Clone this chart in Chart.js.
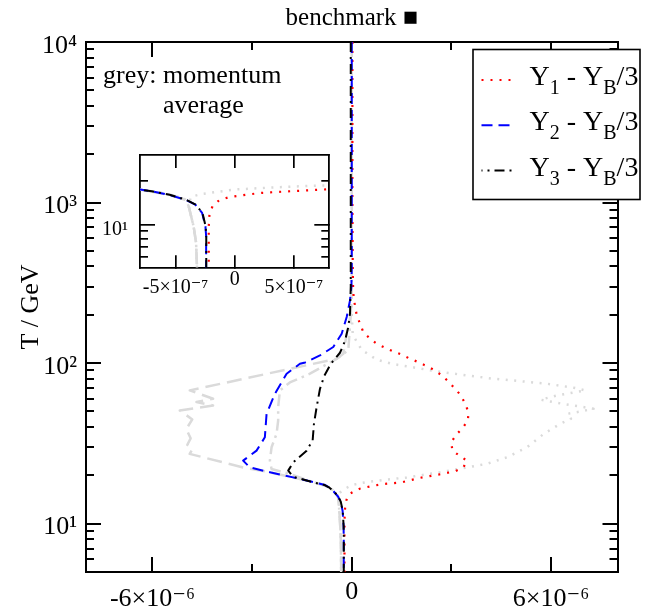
<!DOCTYPE html>
<html><head><meta charset="utf-8">
<script src="https://cdn.jsdelivr.net/npm/chart.js@4.4.1/dist/chart.umd.min.js"></script>
<style>
html,body{margin:0;padding:0;background:#fff;width:645px;height:613px;overflow:hidden}
#wrap{position:relative;width:645px;height:613px;background:#fff}
#main{position:absolute;left:0;top:0}
#inset{position:absolute;left:90px;top:150px}
</style></head><body>
<div id="wrap"><canvas id="main" width="645" height="613"></canvas><canvas id="inset" width="245" height="155"></canvas></div>
<script>
// ---------- data: T in GeV, asymmetry values in units of 1e-6 ----------
const T_Y1 = [10000,1000,400,300,250,229,199,176,156,142,132,124.7,118.3,112.8,106.4,101.4,95.7,90,83.7,76.8,69.2,62.9,55.8,49.5,43.9,39.3,35.8,32.1,28.5,26.5,24.7,22.4,21.2,20.7,20.2,19.3,18.1,17.6,17.3,16.8,16.5,16.0,15.4,14.7,13.5,11.7,9.7,5];
const X_Y1 = [0.02,0.02,0.03,0.04,0.06,0.098,0.149,0.249,0.348,0.55,0.752,1.0,1.253,1.506,1.756,2.006,2.26,2.51,2.712,2.911,3.113,3.285,3.415,3.514,3.496,3.333,3.143,2.992,3.032,3.243,3.466,3.363,3.113,2.863,2.61,2.058,1.506,0.9,0.7,0.406,0.236,0.094,-0.048,-0.128,-0.185,-0.213,-0.219,-0.219];

const T_Y2 = [10000,1000,400,300,246,193.6,152.4,126,111.6,101,99,85.9,64.4,48.3,34.5,28.5,24.7,22.4,20.9,19.0,17.4,16.9,16.0,14.8,13.7,12.0,9.7,8.3,5];
const X_Y2 = [0,0,0,-0.01,-0.053,-0.152,-0.303,-0.556,-0.957,-1.40,-1.56,-1.961,-2.314,-2.564,-2.616,-2.866,-3.27,-3.068,-2.465,-1.56,-0.8,-0.70,-0.56,-0.417,-0.332,-0.275,-0.247,-0.241,-0.241];

const T_Y3 = [10000,1000,300,203,168,137,116,99,83,69,53.2,41.9,33.0,28.5,24.1,21.4,19.6,18.1,17.4,16.9,16.0,14.8,13.7,12.0,9.7,8.3,5];
const X_Y3 = [-0.03,-0.03,-0.03,-0.053,-0.104,-0.204,-0.354,-0.63,-0.83,-0.957,-1.057,-1.138,-1.177,-1.358,-1.762,-1.913,-1.762,-1.159,-0.82,-0.70,-0.55,-0.41,-0.33,-0.272,-0.245,-0.24,-0.24];

// grey: momentum averaged versions
const T_G1 = [10000,1000,300,200,150,121,105,99,94.4,88.8,83.8,79.9,77.2,74.4,70.3,67.6,63,59.2,56,52,50,48.3,45,41.9,36.2,29.9,25.9,23.6,22.4,20.9,19.4,18.6,18.3,17.9,17.4,16.8,16.2,15.5,13.4,9.7,7.5,5];
const X_G1 = [0,0,0,0,0.03,0.3,0.752,1.204,1.807,2.561,3.466,4.268,5.073,5.878,6.68,7.033,6.2,5.68,6.3,7.28,6.9,6.48,6.6,6.28,5.775,5.275,4.672,4.069,3.466,2.661,1.657,0.85,0.55,0.29,0.01,-0.134,-0.275,-0.37,-0.389,-0.347,-0.326,-0.318];

const T_G2 = [10000,1000,300,200,152,114.5,106.4,67.6,60,57.2,54.5,50.7,44.6,38.9,34,31,29,27.2,22.4,20.9,19.0,17.4,16.0,14.8,13.4,9.7,7.5,5];
const X_G2 = [0,0,0,-0.03,-0.152,-0.255,-0.454,-4.877,-4.174,-4.675,-4.174,-5.178,-4.8,-4.98,-4.85,-4.95,-4.8,-4.88,-3.27,-2.465,-1.56,-0.8,-0.56,-0.417,-0.389,-0.347,-0.326,-0.318];

const T_G3 = [10000,1000,300,200,120,106.4,85.9,75.8,67.6,53.2,43.9,36.3,29.9,24.7,21.9,20.4,18.1,16.8,15.3,14.8,13.4,9.7,7.5,5];
const X_G3 = [0,0,0,-0.03,-0.104,-0.454,-1.259,-1.862,-2.163,-2.215,-2.215,-2.263,-2.414,-2.465,-2.414,-1.862,-1.159,-0.656,-0.45,-0.417,-0.389,-0.347,-0.326,-0.318];

// ---------- axes / ticks ----------
const X_RANGE = [-8, 8];
const Y_RANGE = [5, 10000];
const X_MAJOR = [-6, 0, 6];
const X_MAJOR_LABELS = ['-6×10⁻⁶', '0', '6×10⁻⁶'];
const X_MINOR = [-3, 3];
const Y_MAJOR = [10, 100, 1000, 10000];
const Y_MAJOR_LABELS = ['10¹', '10²', '10³', '10⁴'];
const Y_MINOR = [5,6,7,8,9,20,30,40,50,60,70,80,90,200,300,400,500,600,700,800,900,2000,3000,4000,5000,6000,7000,8000,9000];

const IX_RANGE = [-0.8, 0.8];
const IY_RANGE = [5, 30];
const IX_MAJOR = [-0.5, 0, 0.5];
const IX_MAJOR_LABELS = ['-5×10⁻⁷', '0', '5×10⁻⁷'];
const IY_MAJOR = [10];
const IY_MAJOR_LABELS = ['10¹'];
const IY_MINOR = [6,7,8,9,20];

const TITLE = 'benchmark ■';
const Y_TITLE = 'T / GeV';
const NOTE_LINES = ['grey: momentum', 'average'];
const LEGEND_INDEX = ['1', '2', '3'];

// ---------- styles ----------
const FONT = "'Liberation Serif','Times New Roman','DejaVu Serif',serif";
const GREY = 'rgb(218,218,218)';
const STY = {
  Y1: {color:'#ff0000', dash:[2,7], w:2.2},
  Y2: {color:'#0000ff', dash:[11,6], w:2},
  Y3: {color:'#000000', dash:[10,5,2,5], w:2},
  G1: {color:GREY, dash:[2,6.5], w:2.5},
  G2: {color:GREY, dash:[15,7], w:2.5},
  G3: {color:GREY, dash:[12,5,2.5,5], w:2.5}
};

Chart.defaults.font.family = FONT;
Chart.defaults.color = '#000';

function ds(label, T, X, st, order) {
  return {label, data: T.map((t, i) => ({x: X[i], y: t})), borderColor: st.color, backgroundColor: st.color,
    borderWidth: st.w, borderDash: st.dash, borderCapStyle: 'butt', borderJoinStyle: 'round',
    showLine: true, pointRadius: 0, pointHoverRadius: 0, fill: false, tension: 0, order};
}
function datasets() {
  return [
    ds('Y1 - YB/3', T_Y1, X_Y1, STY.Y1, 2),
    ds('Y2 - YB/3', T_Y2, X_Y2, STY.Y2, 1),
    ds('Y3 - YB/3', T_Y3, X_Y3, STY.Y3, 0),
    ds('grey Y1', T_G1, X_G1, STY.G1, 5),
    ds('grey Y2', T_G2, X_G2, STY.G2, 4),
    ds('grey Y3', T_G3, X_G3, STY.G3, 3)
  ];
}

function axis(o) {
  const horiz = o.position === 'top' || o.position === 'bottom';
  const cfg = {
    type: o.type, axis: horiz ? 'x' : 'y', position: o.position, min: o.range[0], max: o.range[1],
    weight: o.weight || 0,
    afterBuildTicks: s => { s.ticks = o.vals.map(v => ({value: v})); },
    afterFit: s => {
      if (horiz) s.height = o.size || 0; else s.width = o.size || 0;
      s.paddingTop = 0; s.paddingBottom = 0; s.paddingLeft = 0; s.paddingRight = 0;
    },
    grid: {display: true, drawOnChartArea: false, drawTicks: true, tickLength: -o.len, tickWidth: o.tw, tickColor: '#000', lineWidth: o.tw, color: '#000'},
    border: {display: !!o.border, color: '#000', width: o.bw || 2},
    ticks: {display: false}
  };
  if (o.labels) {
    cfg.ticks = {display: true, autoSkip: false, maxRotation: 0, minRotation: 0, color: '#000',
      padding: o.pad, labelOffset: o.labelOffset || 0,
      font: ctx => (o.zeroRaise && ctx.tick && ctx.tick.value === 0)
        ? {family: FONT, size: o.fs, lineHeight: ((o.fs * 1.2 - 2 * o.zeroRaise) / o.fs)}
        : {family: FONT, size: o.fs},
      callback: (v, i) => o.labels[i]};
  }
  if (o.title) cfg.title = o.title;
  return cfg;
}

// ---------- main chart ----------
const annot = {
  id: 'annot',
  afterDraw(chart) {
    const ctx = chart.ctx;
    ctx.save();
    ctx.fillStyle = '#000';
    ctx.textBaseline = 'alphabetic';
    ctx.font = `26px ${FONT}`;
    ctx.fillText(NOTE_LINES[0], 103, 83);
    const indent = ctx.measureText('grey: ').width;
    ctx.fillText(NOTE_LINES[1], 103 + indent, 113);
    // legend box
    const bx = 473, by = 49.5, bw = 167, bh = 150;
    ctx.fillStyle = '#fff';
    ctx.fillRect(bx, by, bw, bh);
    ctx.strokeStyle = '#000'; ctx.lineWidth = 1.6;
    ctx.strokeRect(bx, by, bw, bh);
    const sts = [STY.Y1, STY.Y2, STY.Y3];
    for (let i = 0; i < 3; i++) {
      const yb = 85 + i * 45.3;
      const yl = yb - 5;
      ctx.beginPath();
      ctx.setLineDash(sts[i].dash);
      ctx.lineDashOffset = i === 2 ? 9 : 0;
      ctx.strokeStyle = sts[i].color; ctx.lineWidth = sts[i].w; ctx.lineCap = 'butt';
      ctx.moveTo(481.5, yl); ctx.lineTo(512.5, yl); ctx.stroke();
      ctx.setLineDash([]);
      ctx.fillStyle = '#000';
      const parts = [{t:'Y'}, {t:LEGEND_INDEX[i], sub:true}, {t:' - Y'}, {t:'B', sub:true}, {t:'/3'}];
      let x = 529.5;
      const size = 28;
      for (const p of parts) {
        const s = p.sub ? 20 : size;
        ctx.font = `${s}px ${FONT}`;
        ctx.fillText(p.t, x, yb + (p.sub ? 9 : 0));
        x += ctx.measureText(p.t).width;
      }
    }
    ctx.restore();
  }
};

new Chart(document.getElementById('main'), {
  type: 'scatter',
  data: {datasets: datasets()},
  options: {
    responsive: false, animation: false, events: [],
    layout: {padding: {left: 0, top: 0, right: 27.5, bottom: 0}},
    plugins: {
      legend: {display: false}, tooltip: {enabled: false},
      title: {display: true, text: TITLE, fullSize: false, color: '#000',
        font: {family: FONT, size: 25, weight: 'normal'}, padding: {top: 3, bottom: 9}}
    },
    scales: {
      x: axis({type:'linear', position:'bottom', range:X_RANGE, vals:X_MAJOR, labels:X_MAJOR_LABELS, len:15, tw:2, size:41, weight:1, border:true, pad:26.5, fs:26, zeroRaise:7}),
      xm: axis({type:'linear', position:'bottom', range:X_RANGE, vals:X_MINOR, len:8, tw:2}),
      xt: axis({type:'linear', position:'top', range:X_RANGE, vals:X_MAJOR, len:15, tw:2, border:true}),
      xtm: axis({type:'linear', position:'top', range:X_RANGE, vals:X_MINOR, len:8, tw:2}),
      y: axis({type:'logarithmic', position:'left', range:Y_RANGE, vals:Y_MAJOR, labels:Y_MAJOR_LABELS, len:15, tw:2, size:86, weight:1, border:true, pad:24, fs:26, labelOffset:4,
        title: {display: true, text: Y_TITLE, color:'#000', font: {family: FONT, size: 26}, padding: {top: 15.4, bottom: 0}}}),
      ym: axis({type:'logarithmic', position:'left', range:Y_RANGE, vals:Y_MINOR, len:8, tw:2}),
      yr: axis({type:'logarithmic', position:'right', range:Y_RANGE, vals:Y_MAJOR, len:15, tw:2, border:true}),
      yrm: axis({type:'logarithmic', position:'right', range:Y_RANGE, vals:Y_MINOR, len:8, tw:2})
    }
  },
  plugins: [annot]
});

// ---------- inset chart ----------
const insetBg = {
  id: 'insetBg',
  beforeDraw(chart) {
    const a = chart.chartArea, ctx = chart.ctx;
    ctx.save(); ctx.fillStyle = '#fff';
    ctx.fillRect(a.left, a.top, a.right - a.left, a.bottom - a.top);
    ctx.restore();
  }
};
new Chart(document.getElementById('inset'), {
  type: 'scatter',
  data: {datasets: datasets()},
  options: {
    responsive: false, animation: false, events: [],
    layout: {padding: {left: 0, top: 5, right: 5.7, bottom: 0}},
    plugins: {legend: {display: false}, tooltip: {enabled: false}, title: {display: false}},
    scales: {
      x: axis({type:'linear', position:'bottom', range:IX_RANGE, vals:IX_MAJOR, labels:IX_MAJOR_LABELS, len:13, tw:1.7, bw:1.8, size:36.7, weight:1, border:true, pad:20.9, fs:20, zeroRaise:8}),
      xt: axis({type:'linear', position:'top', range:IX_RANGE, vals:IX_MAJOR, len:13, tw:1.7, bw:1.8, border:true}),
      y: axis({type:'logarithmic', position:'left', range:IY_RANGE, vals:IY_MAJOR, labels:IY_MAJOR_LABELS, len:15, tw:1.7, bw:1.8, size:50, weight:1, border:true, pad:27, fs:20, labelOffset:5}),
      ym: axis({type:'logarithmic', position:'left', range:IY_RANGE, vals:IY_MINOR, len:8, tw:1.7}),
      yr: axis({type:'logarithmic', position:'right', range:IY_RANGE, vals:IY_MAJOR, len:15, tw:1.7, bw:1.8, border:true}),
      yrm: axis({type:'logarithmic', position:'right', range:IY_RANGE, vals:IY_MINOR, len:8, tw:1.7})
    }
  },
  plugins: [insetBg]
});
</script>
</body></html>
